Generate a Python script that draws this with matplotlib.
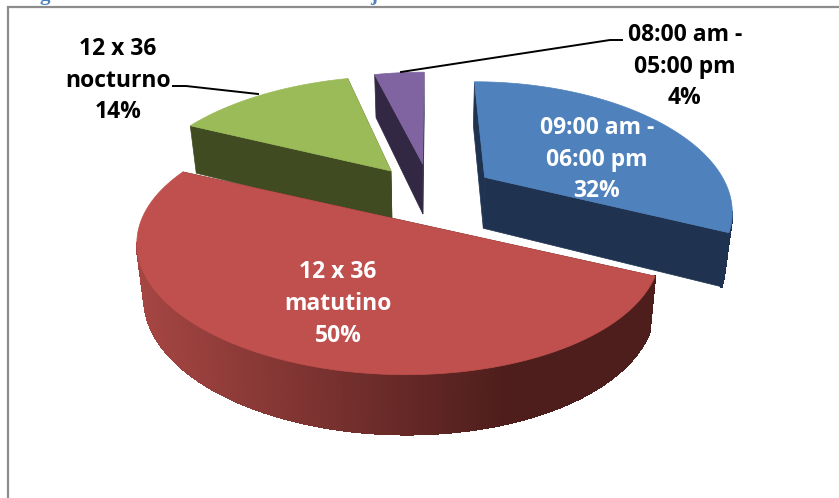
import numpy as np
import matplotlib
matplotlib.use("Agg")
import matplotlib.pyplot as plt
from matplotlib.collections import PolyCollection
from matplotlib.colors import to_rgb

# Shift shares, in percent, clockwise from the top of the pie
categories = ["09:00 am -\n06:00 pm", "12 x 36\nmatutino", "12 x 36\nnocturno", "08:00 am -\n05:00 pm"]
shares = [32, 50, 14, 4]

top_colors = ["#4F81BD", "#C0504D", "#9BBB59", "#8064A2"]
side_colors = ["#1F3350", "#4E1E1C", "#404B21", "#332843"]

# Exploded offset of every slice on the pie plane (right, back), in radii
explode_u = [0.220, -0.134, -0.159, -0.030]
explode_v = [0.150, -0.190, 0.206, 0.270]
# Slice size along both plane axes and skew of its rim
radius_u = [0.957, 0.95, 1.01, 1.00]
radius_v = [1.03, 0.91, 1.05, 1.04]
skew = [0, 15, 0, 0]

# Camera used to flatten the tilted pie on to the page
CX, CY = 430, 195
RX, RY = 257, 122
PERSP = 0.23
START_DEG = 0.0
WALL_SHRINK = 0.975
WALL_MEAN, WALL_SLOPE = 52, -7

plt.rcParams["font.family"] = ["Open Sans", "DejaVu Sans"]
fig = plt.figure(figsize=(8.39, 4.98), dpi=100)
ax = fig.add_axes([0, 0, 1, 1])
ax.set_xlim(0, 839)
ax.set_ylim(498, 0)
ax.axis("off")


def project(u, v, s=0):
    w = 1 + PERSP * v
    return CX + (RX * u - s * v) / w, CY - RY * v / w


def wall(u, v, s=0):
    x, y = project(u, v, s)
    return CX + (x - CX) * WALL_SHRINK, y + WALL_MEAN + WALL_SLOPE * v


def lerp_rgb(a, b, t):
    a, b = np.array(to_rgb(a)), np.array(to_rgb(b))
    return tuple(a + (b - a) * t)


# Frame of the chart area
ax.plot([8, 8, 839], [498, 7, 7], color="#8C8C8C", lw=1.6, solid_joinstyle="miter", zorder=1)

# Descenders of the heading, cut off by the top of the page
heading = {"family": "Liberation Serif", "weight": "bold", "size": 15, "color": "#4F81BD", "va": "baseline"}
ax.text(40, 0, "g", **heading)
ax.text(370, 0, "j", **heading)

edges = np.cumsum([0] + shares) / sum(shares) * 360 + START_DEG
draw_order = [3, 0, 2, 1]  # back to front

for i in draw_order:
    t = np.radians(np.linspace(edges[i], edges[i + 1], 400))
    u0, v0, s = explode_u[i], explode_v[i], skew[i]
    u = u0 + radius_u[i] * np.sin(t)
    v = v0 + radius_v[i] * np.cos(t)
    z = 10 + draw_order.index(i) * 3

    # Cut faces
    for end in (0, -1):
        pts = [project(u0, v0, s), project(u[end], v[end], s), wall(u[end], v[end], s), wall(u0, v0, s)]
        ax.fill(*zip(*pts), color=side_colors[i], lw=0.5, zorder=z)

    # Rim: it faces the viewer where the clockwise arc runs leftwards on the page
    sx, sy = project(u, v, s)
    bx, by = wall(u, v, s)
    front = np.flatnonzero(np.diff(sx) < 0)
    quads = [[(sx[j], sy[j]), (sx[j + 1], sy[j + 1]), (bx[j + 1], by[j + 1]), (bx[j], by[j])]
             for j in front]
    if i == 1:
        shade = np.clip((505 - sx[front]) / 370, 0, 1)
        cols = [lerp_rgb("#4E1E1C", "#A64643", c) for c in shade]
    else:
        cols = [side_colors[i]] * len(quads)
    if quads:
        ax.add_collection(PolyCollection(quads, facecolors=cols, edgecolors=cols, linewidths=1.0,
                                         antialiaseds=False, zorder=z + 1))

    # Top face
    tx, ty = project(np.r_[u0, u], np.r_[v0, v], s)
    ax.fill(tx, ty, color=top_colors[i], lw=0.5, zorder=z + 2)

# Leader lines for the outside labels
ax.plot([173, 186, 258], [86, 86, 94], color="black", lw=1.4, zorder=30)
ax.plot([401, 610, 622], [72, 40, 40], color="black", lw=1.4, zorder=30)

# Data labels: category and share
label_x = [597, 338, 118, 685]
label_y = [159.5, 304, 80.5, 66.5]
label_colors = ["white", "white", "black", "black"]
for name, share, x, y, c in zip(categories, shares, label_x, label_y, label_colors):
    ax.text(x, y, f"{name}\n{share}%", ha="center", va="center", color=c,
            fontsize=16.5, fontweight="bold", linespacing=1.42, zorder=40)

fig.savefig("out.png", dpi=100, facecolor="white")
